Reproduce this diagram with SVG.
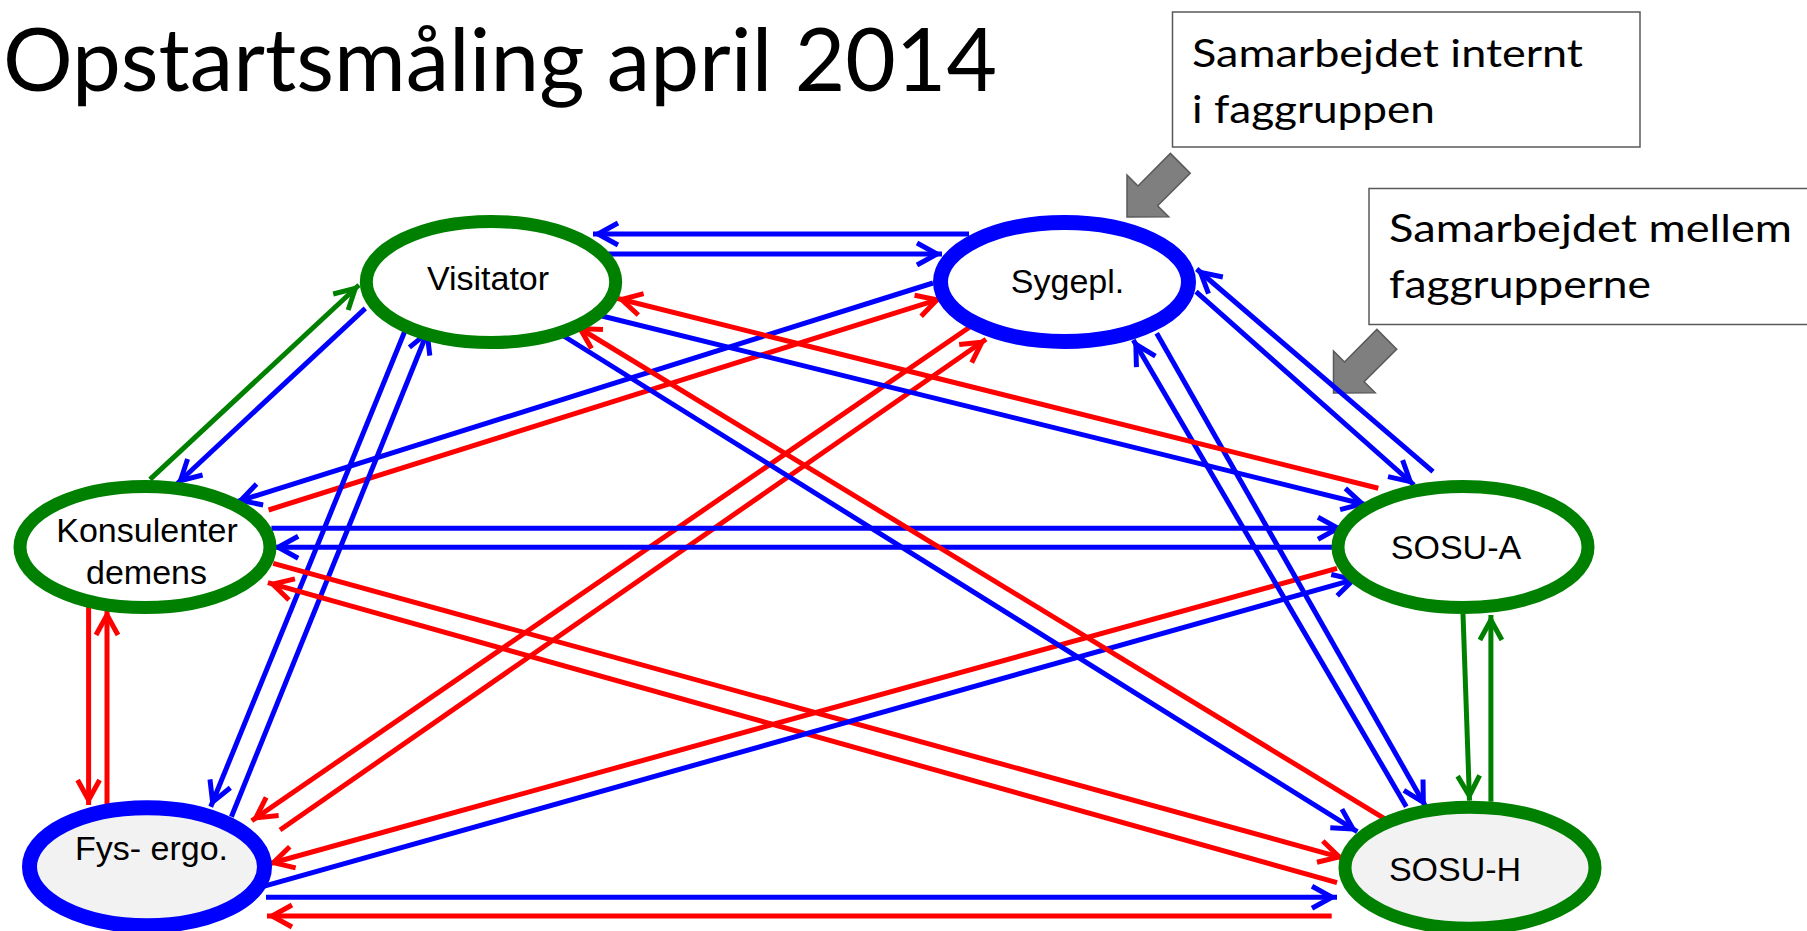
<svg xmlns="http://www.w3.org/2000/svg" xmlns:xlink="http://www.w3.org/1999/xlink" width="1807" height="931" viewBox="0 0 1807 931">
  <style>
    .title { font-family: Lato, "Open Sans", sans-serif; font-size: 88px; fill: #000; }
    .note { font-family: Lato, "Open Sans", sans-serif; font-size: 39.5px; fill: #000; }
    .note-box { fill: #fff; stroke: #595959; stroke-width: 1.5; }
    .label { font-family: "Liberation Sans", Arial, sans-serif; font-size: 34px; fill: #000; text-anchor: middle; }
    .n-green { stroke: #008000; stroke-width: 13; }
    .n-blue { stroke: #0000ff; stroke-width: 15; }
    .fill-w { fill: #ffffff; }
    .fill-g { fill: #f2f2f2; }
    .c { fill: none; stroke-width: 5; }
    .c-blue { stroke: #0000ff; marker-end: url(#ah-blue); }
    .c-red { stroke: #ff0000; marker-end: url(#ah-red); }
    .c-green { stroke: #008000; marker-end: url(#ah-green); }
    .block-arrow { fill: #7f7f7f; stroke: #595959; stroke-width: 1.5; }
  </style>
  <defs>
    <marker id="ah-blue" viewBox="-30 -15 36 30" refX="0" refY="0" markerWidth="36" markerHeight="30" markerUnits="userSpaceOnUse" orient="auto" overflow="visible">
      <path d="M-25,-11 L-5,0 L-25,11" fill="none" stroke="#0000ff" stroke-width="5"/>
    </marker>
    <marker id="ah-red" viewBox="-30 -15 36 30" refX="0" refY="0" markerWidth="36" markerHeight="30" markerUnits="userSpaceOnUse" orient="auto" overflow="visible">
      <path d="M-25,-11 L-5,0 L-25,11" fill="none" stroke="#ff0000" stroke-width="5"/>
    </marker>
    <marker id="ah-green" viewBox="-30 -15 36 30" refX="0" refY="0" markerWidth="36" markerHeight="30" markerUnits="userSpaceOnUse" orient="auto" overflow="visible">
      <path d="M-25,-11 L-5,0 L-25,11" fill="none" stroke="#008000" stroke-width="5"/>
    </marker>
    <!-- block arrow pointing down-left, tip at its lower-left corner -->
    <polygon id="callout-arrow" class="block-arrow" points="1127,217 1127,175 1138,186 1170.4,153.4 1190.2,173.2 1157.6,205.7 1168.7,216.8"/>
  </defs>

  <rect x="0" y="0" width="1807" height="931" fill="#ffffff"/>

  <text class="title" x="3" y="91" textLength="994" lengthAdjust="spacingAndGlyphs">Opstartsmåling april 2014</text>

  <g id="note-internal">
    <rect class="note-box" x="1172.5" y="12" width="467.5" height="135"/>
    <text class="note" x="1192" y="67" textLength="391" lengthAdjust="spacingAndGlyphs">Samarbejdet internt</text>
    <text class="note" x="1192" y="123" textLength="243" lengthAdjust="spacingAndGlyphs">i faggruppen</text>
    <use xlink:href="#callout-arrow"/>
  </g>

  <g id="note-between">
    <rect class="note-box" x="1369" y="188.5" width="460" height="136"/>
    <text class="note" x="1389" y="242" textLength="403" lengthAdjust="spacingAndGlyphs">Samarbejdet mellem</text>
    <text class="note" x="1389" y="298" textLength="262" lengthAdjust="spacingAndGlyphs">faggrupperne</text>
    <use xlink:href="#callout-arrow" transform="translate(206.5,176)"/>
  </g>

  <g id="connectors">
    <!-- Visitator / Sygepl. -->
    <line class="c c-blue" x1="969" y1="234" x2="593" y2="234"/>
    <line class="c c-blue" x1="604.5" y1="254" x2="942" y2="254"/>
    <!-- Sygepl. / Konsulenter -->
    <line class="c c-blue" x1="933" y1="283" x2="236" y2="502"/>
    <line class="c c-red" x1="268.6" y1="510" x2="941.7" y2="298.3"/>
    <!-- Sygepl. / Fys- ergo. -->
    <line class="c c-red" x1="972.7" y1="325" x2="251.8" y2="820.7"/>
    <line class="c c-red" x1="280" y1="830" x2="986" y2="339.3"/>
    <!-- Visitator / Fys- ergo. -->
    <line class="c c-blue" x1="405.3" y1="330" x2="210.7" y2="806.7"/>
    <line class="c c-blue" x1="231.4" y1="816.7" x2="429" y2="328.3"/>
    <!-- Visitator / Konsulenter -->
    <line class="c c-green" x1="150" y1="479.3" x2="359" y2="285"/>
    <line class="c c-blue" x1="365.3" y1="308.3" x2="176.8" y2="484"/>
    <!-- Konsulenter / SOSU-A -->
    <line class="c c-blue" x1="271.4" y1="528.3" x2="1343" y2="528.3"/>
    <line class="c c-blue" x1="1337" y1="547.3" x2="273.2" y2="547.3"/>
    <!-- Konsulenter / SOSU-H -->
    <line class="c c-red" x1="273.2" y1="563.3" x2="1344" y2="858.3"/>
    <line class="c c-red" x1="1337" y1="882.7" x2="267.9" y2="582.7"/>
    <!-- Konsulenter / Fys- ergo. -->
    <line class="c c-red" x1="88.6" y1="602.7" x2="88.6" y2="805"/>
    <line class="c c-red" x1="107" y1="806.7" x2="107" y2="610"/>
    <!-- SOSU-A / Fys- ergo. -->
    <line class="c c-red" x1="1337" y1="568.3" x2="268.6" y2="864"/>
    <line class="c c-blue" x1="262.5" y1="886.7" x2="1358.3" y2="578.3"/>
    <!-- Fys- ergo. / SOSU-H -->
    <line class="c c-blue" x1="266" y1="897.3" x2="1337" y2="897.3"/>
    <line class="c c-red" x1="1331.7" y1="916" x2="267" y2="916"/>
    <!-- SOSU-A / SOSU-H -->
    <line class="c c-green" x1="1463" y1="614" x2="1469.5" y2="800.7"/>
    <line class="c c-green" x1="1490.9" y1="801.7" x2="1490.9" y2="615"/>
    <!-- Sygepl. / SOSU-A -->
    <line class="c c-blue" x1="1196" y1="291.7" x2="1414" y2="485"/>
    <line class="c c-blue" x1="1433" y1="471.7" x2="1196.7" y2="269"/>
    <!-- Sygepl. / SOSU-H -->
    <line class="c c-blue" x1="1156.7" y1="333.3" x2="1425.8" y2="806.7"/>
    <line class="c c-blue" x1="1406.3" y1="806.7" x2="1133.3" y2="340"/>
    <!-- Visitator / SOSU-A -->
    <line class="c c-blue" x1="593.9" y1="314" x2="1367" y2="505"/>
    <line class="c c-red" x1="1378.3" y1="488.3" x2="616.7" y2="298.3"/>
    <!-- Visitator / SOSU-H -->
    <line class="c c-blue" x1="560.4" y1="334" x2="1357.3" y2="831.7"/>
    <line class="c c-red" x1="1385.7" y1="819.3" x2="575.9" y2="326"/>
  </g>

  <g id="node-visitator">
    <ellipse class="n-green fill-w" cx="491" cy="282" rx="124.7" ry="60.5"/>
    <text class="label" x="488" y="290">Visitator</text>
  </g>
  <g id="node-sygepl">
    <ellipse class="n-blue fill-w" cx="1064.5" cy="282" rx="124" ry="59.5"/>
    <text class="label" x="1067.5" y="293">Sygepl.</text>
  </g>
  <g id="node-konsulenter">
    <ellipse class="n-green fill-w" cx="145" cy="547" rx="125" ry="60.5"/>
    <text class="label" x="147" y="542">Konsulenter</text>
    <text class="label" x="146.5" y="584">demens</text>
  </g>
  <g id="node-fys-ergo">
    <ellipse class="n-blue fill-g" cx="147" cy="866.7" rx="117.5" ry="59"/>
    <text class="label" x="151.5" y="860">Fys- ergo.</text>
  </g>
  <g id="node-sosu-a">
    <ellipse class="n-green fill-w" cx="1463" cy="547" rx="125" ry="60.5"/>
    <text class="label" x="1456" y="559">SOSU-A</text>
  </g>
  <g id="node-sosu-h">
    <ellipse class="n-green fill-g" cx="1470" cy="867.7" rx="125" ry="60.5"/>
    <text class="label" x="1455" y="881">SOSU-H</text>
  </g>
</svg>
